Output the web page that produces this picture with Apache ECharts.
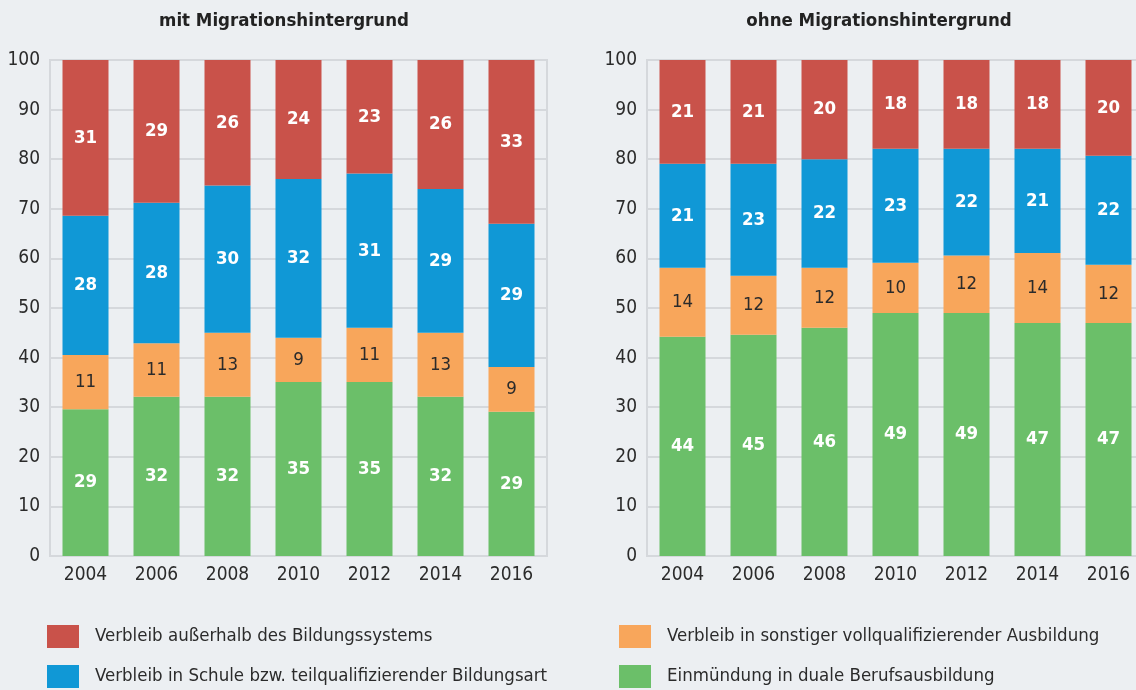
<!DOCTYPE html>
<html>
<head>
<meta charset="utf-8">
<script src="https://cdn.jsdelivr.net/npm/echarts@6/dist/echarts.min.js"></script>
<style>
  html, body { margin: 0; padding: 0; background: #eceff2; }
  #chart { width: 1136px; height: 690px; }
</style>
</head>
<body>
<div id="chart"></div>
<script>
const years = ['2004', '2006', '2008', '2010', '2012', '2014', '2016'];
const seriesNames = [
    'Einmündung in duale Berufsausbildung',
    'Verbleib in sonstiger vollqualifizierender Ausbildung',
    'Verbleib in Schule bzw. teilqualifizierender Bildungsart',
    'Verbleib außerhalb des Bildungssystems'
];
const colors = ['#6bbf69', '#f8a65b', '#1098d6', '#c9524a'];
const titles = ['mit Migrationshintergrund', 'ohne Migrationshintergrund'];

// mit Migrationshintergrund (segment heights as drawn, printed labels)
const mitDual = [29.6, 32.1, 32.1, 35.1, 35.1, 32.1, 29.1];
const mitSonst = [10.9, 10.8, 12.9, 8.9, 10.9, 12.9, 9.0];
const mitSchule = [28.1, 28.3, 29.7, 32.0, 31.1, 29.0, 28.9];
const mitAusser = [31.4, 28.8, 25.3, 24.0, 22.9, 26.0, 33.0];
const mitDualLbl = [29, 32, 32, 35, 35, 32, 29];
const mitSonstLbl = [11, 11, 13, 9, 11, 13, 9];
const mitSchuleLbl = [28, 28, 30, 32, 31, 29, 29];
const mitAusserLbl = [31, 29, 26, 24, 23, 26, 33];

// ohne Migrationshintergrund
const ohneDual = [44.2, 44.6, 46.0, 49.0, 49.0, 47.0, 47.0];
const ohneSonst = [13.9, 11.9, 12.1, 10.1, 11.6, 14.1, 11.7];
const ohneSchule = [21.0, 22.6, 21.9, 23.0, 21.5, 21.0, 22.0];
const ohneAusser = [20.9, 20.9, 20.0, 17.9, 17.9, 17.9, 19.3];
const ohneDualLbl = [44, 45, 46, 49, 49, 47, 47];
const ohneSonstLbl = [14, 12, 12, 10, 12, 14, 12];
const ohneSchuleLbl = [21, 23, 22, 23, 22, 21, 22];
const ohneAusserLbl = [21, 21, 20, 18, 18, 18, 20];

const yTicks = [0, 10, 20, 30, 40, 50, 60, 70, 80, 90, 100];

const FONT = "'DejaVu Sans Condensed', 'Liberation Sans Narrow', sans-serif";
const gridLine = '#d5d8dc';
const textColor = '#2b2b2b';

const panels = [
    { values: [mitDual, mitSonst, mitSchule, mitAusser],
      labels: [mitDualLbl, mitSonstLbl, mitSchuleLbl, mitAusserLbl] },
    { values: [ohneDual, ohneSonst, ohneSchule, ohneAusser],
      labels: [ohneDualLbl, ohneSonstLbl, ohneSchuleLbl, ohneAusserLbl] }
];

let myChart = echarts.init(document.getElementById('chart'), null, { renderer: 'canvas' });

let series = [];
panels.forEach(function (p, gi) {
    p.values.forEach(function (vals, si) {
        const lbls = p.labels[si];
        series.push({
            name: seriesNames[si],
            type: 'bar',
            stack: 'panel' + gi,
            xAxisIndex: gi,
            yAxisIndex: gi,
            barWidth: 46,
            itemStyle: { color: colors[si] },
            label: {
                show: true,
                position: 'inside',
                fontFamily: FONT,
                fontSize: 18.5,
                fontWeight: si === 1 ? 'normal' : 'bold',
                color: si === 1 ? textColor : '#ffffff',
                formatter: function (d) { return String(lbls[d.dataIndex]); }
            },
            data: vals
        });
    });
});

// legend layout: [series index, left, top]
const legendSlots = [[3, 47, 625], [2, 47, 665], [1, 619, 625], [0, 619, 665]];

const option = {
    backgroundColor: '#eceff2',
    animation: false,
    textStyle: { fontFamily: FONT },
    title: [
        { text: titles[0], left: 279, top: 7, textAlign: 'center',
          textStyle: { fontFamily: FONT, fontSize: 18.5, fontWeight: 'bold', color: '#222' } },
        { text: titles[1], left: 874, top: 7, textAlign: 'center',
          textStyle: { fontFamily: FONT, fontSize: 18.5, fontWeight: 'bold', color: '#222' } }
    ],
    legend: legendSlots.map(function (s) {
        return {
            left: s[1], top: s[2], padding: 0,
            itemWidth: 32, itemHeight: 23, icon: 'rect',
            data: [seriesNames[s[0]]],
            textStyle: { fontFamily: FONT, fontSize: 18.5, color: textColor, padding: [0, 0, 0, 11] }
        };
    }),
    grid: [
        { left: 50, top: 60, width: 497, height: 496, outerBoundsMode: 'none',
          show: true, borderColor: gridLine, borderWidth: 2 },
        { left: 647, top: 60, width: 497, height: 496, outerBoundsMode: 'none',
          show: true, borderColor: gridLine, borderWidth: 2 }
    ],
    xAxis: [0, 1].map(function (gi) {
        return {
            type: 'category', gridIndex: gi, data: years,
            axisLine: { show: true, lineStyle: { color: gridLine, width: 2 } },
            axisTick: { show: false },
            axisLabel: { fontFamily: FONT, fontSize: 19, color: textColor, margin: 10 }
        };
    }),
    yAxis: [0, 1].map(function (gi) {
        return {
            type: 'value', gridIndex: gi, min: yTicks[0], max: yTicks[yTicks.length - 1], interval: 10,
            axisLine: { show: true, lineStyle: { color: gridLine, width: 2 } },
            axisTick: { show: false },
            splitLine: { lineStyle: { color: gridLine, width: 2 } },
            axisLabel: { fontFamily: FONT, fontSize: 19, color: textColor, margin: 10 }
        };
    }),
    series: series
};

option && myChart.setOption(option);
</script>
</body>
</html>
